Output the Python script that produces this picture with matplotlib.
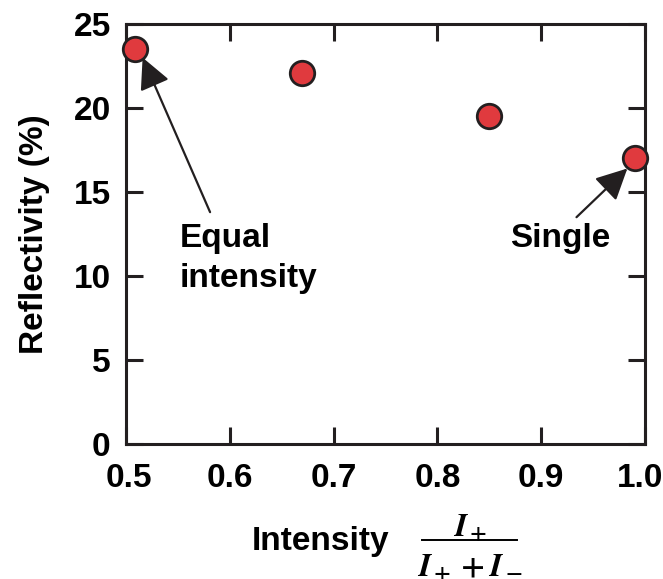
"""Reflectivity versus intensity ratio of the two beams."""
import matplotlib

matplotlib.use("Agg")
import matplotlib.pyplot as plt
from matplotlib.lines import Line2D
from matplotlib.transforms import ScaledTranslation

plt.rcParams["font.family"] = ["Liberation Sans", "DejaVu Sans"]
plt.rcParams["font.weight"] = "bold"
plt.rcParams["mathtext.fontset"] = "stix"

# intensity fraction I+/(I+ + I-) and measured reflectivity (%)
intensity_ratio = [0.509, 0.67, 0.85, 0.99]
reflectivity = [23.5, 22.1, 19.5, 17.0]

x_ticks = [0.5, 0.6, 0.7, 0.8, 0.9, 1.0]
x_tick_labels = ["0.5", "0.6", "0.7", "0.8", "0.9", "1.0"]
y_ticks = [0, 5, 10, 15, 20, 25]

AXIS_COLOR = "#231f20"
MARKER_FACE = "#e03a3e"
W, H = 663, 579

fig = plt.figure(figsize=(W / 100, H / 100), dpi=100)
ax = fig.add_axes([126 / W, 1 - 444 / H, 519 / W, 420 / H])

ax.scatter(intensity_ratio, reflectivity, s=310, facecolor=MARKER_FACE,
           edgecolor=AXIS_COLOR, linewidth=2, zorder=3, clip_on=False)

ax.set_xlim(0.5, 1.0)
ax.set_ylim(0, 25)
ax.set_xticks(x_ticks)
ax.set_xticklabels(x_tick_labels)
ax.set_yticks(y_ticks)

for spine in ax.spines.values():
    spine.set_linewidth(2.2)
    spine.set_color(AXIS_COLOR)
ax.tick_params(direction="in", length=12, width=2.2, color=AXIS_COLOR,
               top=True, right=True, labelsize=24)
ax.tick_params(axis="x", pad=14)
ax.tick_params(axis="y", pad=11)

# nudge the end labels so they stay inside the figure
labels = ax.get_xticklabels()
labels[0].set_transform(labels[0].get_transform()
                        + ScaledTranslation(3 / 100, 0, fig.dpi_scale_trans))
labels[-1].set_transform(labels[-1].get_transform()
                         + ScaledTranslation(-5 / 100, 0, fig.dpi_scale_trans))

ax.set_ylabel("Reflectivity (%)", fontsize=24, fontweight="bold", labelpad=17)

# x label: word plus the intensity fraction drawn as numerator / bar / denominator
fig.text(321 / W, 1 - 550 / H, "Intensity", fontsize=24, fontweight="bold",
         ha="center", va="baseline")
fig.text(470 / W, 1 - 536 / H, r"$I_+$", fontsize=23,
         ha="center", va="baseline")
fig.add_artist(Line2D([422 / W, 517 / W], [1 - 540 / H, 1 - 540 / H],
                      color="black", lw=1.4, transform=fig.transFigure))
fig.text(470 / W, 1 - 577 / H, r"$I_+ + I_-$", fontsize=23,
         ha="center", va="baseline")

arrow = dict(arrowstyle="-|>,head_length=0.6,head_width=0.3",
             mutation_scale=32, lw=1.6, color=AXIS_COLOR,
             shrinkA=0, shrinkB=0)
ax.annotate("", xy=(0.516, 23.0), xytext=(0.581, 13.8), arrowprops=arrow)
ax.text(0.552, 11.73, "Equal", fontsize=24, fontweight="bold",
        ha="left", va="baseline")
ax.text(0.552, 9.35, "intensity", fontsize=24, fontweight="bold",
        ha="left", va="baseline")
ax.annotate("", xy=(0.983, 16.4), xytext=(0.934, 13.5), arrowprops=arrow)
ax.text(0.918, 11.73, "Single", fontsize=24, fontweight="bold",
        ha="center", va="baseline")

fig.savefig("out.png", dpi=100)
